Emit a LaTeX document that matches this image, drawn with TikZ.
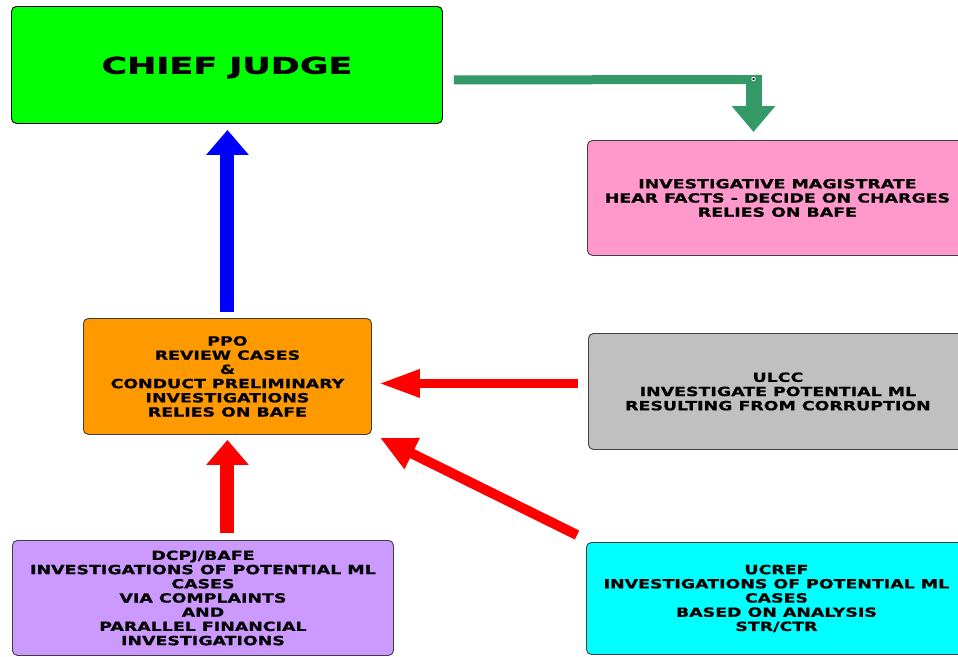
\documentclass[tikz,border=0pt]{standalone}
\usepackage{fontspec}
\newfontfamily\boxfont{DejaVu Sans}[FakeStretch=1.38, FakeBold=0.8]
\newfontfamily\titlefont{DejaVu Sans}[FakeStretch=1.52, FakeBold=1.5]
\usetikzlibrary{arrows.meta}
\definecolor{cjgreen}{HTML}{00FF00}
\definecolor{impink}{HTML}{FF99CC}
\definecolor{ulgray}{HTML}{C0C0C0}
\definecolor{ppoorange}{HTML}{FF9900}
\definecolor{dcpurple}{HTML}{CC99FF}
\definecolor{uccyan}{HTML}{00FFFF}
\definecolor{arrgreen}{HTML}{339966}
\definecolor{arrblue}{HTML}{0000FF}
\definecolor{arrred}{HTML}{FF0000}
\tikzset{
  box/.style={draw=black!75, line width=0.9pt, rounded corners=5pt, anchor=north west,
    inner sep=0pt, align=center,
    font=\boxfont\bfseries\fontsize{12.6}{14.2}\selectfont},
  bigarrow/.style={line width=14pt, -{Triangle[width=41pt,length=25pt]}},
  redh/.style={arrred, line width=9pt, -{Triangle[width=26pt,length=41pt]}},
  redd/.style={arrred, line width=10pt, -{Triangle[width=32pt,length=36pt]}},
}
\begin{document}
\begin{tikzpicture}[x=1pt,y=-1pt]
\useasboundingbox (0,0) rectangle (958,656);
\clip (0,0) rectangle (958,656);
\fill[white] (0,0) rectangle (958,656);

\node[box, draw=black, fill=cjgreen, minimum width=431pt, minimum height=117pt,
  text height=17.6pt, text depth=0pt,
  font=\titlefont\bfseries\fontsize{23}{26}\selectfont] (chief) at (11,6) {CHIEF JUDGE};
\node[box, fill=impink, minimum width=380pt, minimum height=115pt] (im) at (587,140)
  {INVESTIGATIVE MAGISTRATE\\HEAR FACTS - DECIDE ON CHARGES\\RELIES ON BAFE};
\node[box, fill=ulgray, minimum width=379pt, minimum height=116pt] (ulcc) at (588,333)
  {ULCC\\INVESTIGATE POTENTIAL ML\\RESULTING FROM CORRUPTION};
\node[box, fill=ppoorange, minimum width=288pt, minimum height=116pt] (ppo) at (83,318)
  {PPO\\REVIEW CASES\\\&\\CONDUCT PRELIMINARY\\INVESTIGATIONS\\RELIES ON BAFE};
\node[box, fill=dcpurple, minimum width=381pt, minimum height=115pt] (dcpj) at (12,540)
  {DCPJ/BAFE\\INVESTIGATIONS OF POTENTIAL ML\\CASES\\VIA COMPLAINTS\\AND\\PARALLEL FINANCIAL\\INVESTIGATIONS};
\node[box, fill=uccyan, minimum width=380pt, minimum height=112pt] (ucref) at (586,542)
  {UCREF\\INVESTIGATIONS OF POTENTIAL ML\\CASES\\BASED ON ANALYSIS\\STR/CTR};

% blue arrow PPO -> chief judge
\draw[bigarrow, arrblue] ([yshift=6pt]ppo.north) -- ([yshift=-6pt]ppo.north |- chief.south);
% red vertical DCPJ -> PPO
\draw[bigarrow, arrred] ([yshift=7pt]ppo.south |- dcpj.north) -- ([yshift=-5pt]ppo.south);
% red horizontal ULCC -> PPO
\draw[redh] ([shift={(-10pt,8pt)}]ulcc.west) -- ([shift={(7pt,-7pt)}]ppo.east);
% red diagonal UCREF -> PPO
\draw[redd] ([shift={(-9pt,7pt)}]ucref.north west) -- ([shift={(8pt,-2.8pt)}]ppo.south east);
% green bent arrow chief judge -> magistrate
\coordinate (gbend) at (753.5,75);
\draw[arrgreen, line width=9pt] ([shift={(11pt,-15pt)}]chief.east) -- ([xshift=8pt,yshift=-4.5pt]gbend);
\draw[arrgreen, line width=16pt, -{Triangle[width=42pt,length=26pt]}] (gbend) -- ([yshift=8pt]gbend |- im.north);
\fill[white] ([yshift=-4pt]gbend) circle (2.2pt);
\fill[black] ([yshift=-4pt]gbend) ellipse (1.5pt and 1pt);
\end{tikzpicture}
\end{document}
